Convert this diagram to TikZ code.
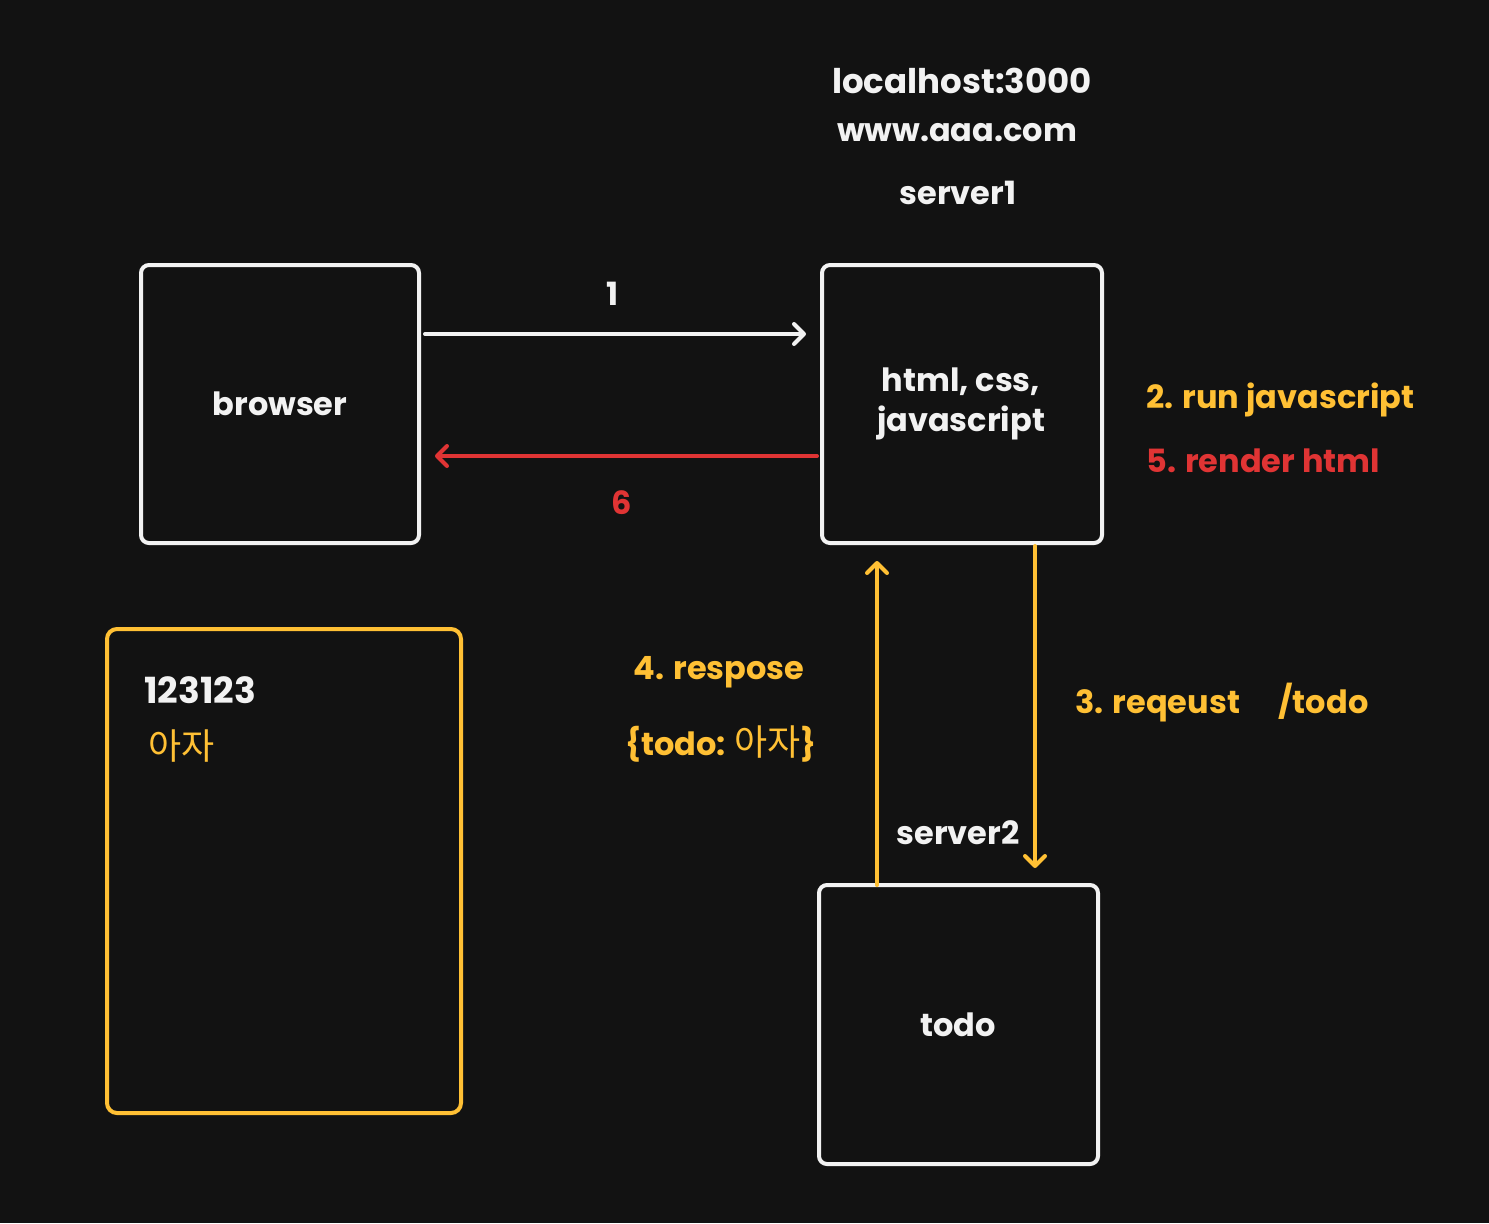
\documentclass[tikz,border=0pt]{standalone}
\usepackage{fontspec}
\setmainfont{Poppins}
\newfontfamily\kr{Noto Sans CJK KR}
\usetikzlibrary{arrows.meta}
\definecolor{bg}{HTML}{121212}
\definecolor{wht}{HTML}{F2F2F2}
\definecolor{ylw}{HTML}{FFC034}
\definecolor{rd}{HTML}{E03434}
\tikzset{
  box/.style={draw=wht, line width=2pt, rounded corners=4pt},
  ybox/.style={draw=ylw, line width=2pt, rounded corners=5pt},
  lbl/.style={font=\fontsize{16}{19}\selectfont\bfseries, text=wht, inner sep=0pt},
  conn/.style={line width=2pt, line cap=round, -{Straight Barb[length=5pt,width=10pt,line cap=round,line join=round]}},
}
\begin{document}
\begin{tikzpicture}[x=0.5pt,y=-0.5pt]
\fill[bg] (0,0) rectangle (1489,1223);
\useasboundingbox (0,0) rectangle (1489,1223);
% boxes
\draw[box] (141,265) rectangle (419,543);
\draw[box] (822,265) rectangle (1102,543);
\draw[box] (819,885) rectangle (1098,1164);
\draw[ybox] (107,629) rectangle (461,1113);
% anchor coordinates for connectors
\coordinate (a1s) at (425,334); \coordinate (a1e) at (806,334);
\coordinate (a6s) at (817,456); \coordinate (a6e) at (435,456);
\coordinate (upS) at (877,885); \coordinate (upE) at (877,561);
\coordinate (dnS) at (1035,546); \coordinate (dnE) at (1035,868);
\draw[conn, wht] (a1s) -- (a1e);
\draw[conn, rd] (a6s) -- (a6e);
\draw[conn, ylw] (upS) -- (upE);
\draw[conn, ylw] (dnS) -- (dnE);
% texts
\node[lbl, font=\fontsize{17}{19}\selectfont\bfseries] (lh) at (962,81) {localhost:3000};
\node[lbl] (www) at (957,133) {www.aaa.com};
\node[lbl] (s1) at (958,193) {server1};
\node[lbl] (br) at (280,404) {browser};
\node[lbl, align=center] (html) at (961,404) {html, css,\\[1pt]javascript};
\node[lbl] (one) at (613,294) {1};
\node[lbl, text=rd] (six) at (622,503) {6};
\node[lbl, text=ylw, anchor=west] (run) at (1146,400) {2. run javascript};
\node[lbl, text=rd, anchor=west] (rend) at (1146,461) {5. render html};
\node[lbl, text=ylw] (resp) at (719,672) {4. respose};
\node[lbl, text=ylw] (todoj) at (721,744) {\{todo: {\kr\mdseries\fontsize{18}{19}\selectfont 아자}\}};
\node[lbl, text=ylw, anchor=west] (req) at (1075,703) {3. reqeust\hspace{1.2em}/todo};
\node[lbl] (s2) at (958,833) {server2};
\node[lbl] (todo) at (958,1025) {todo};
\node[lbl, anchor=west, font=\fontsize{18}{19}\selectfont\bfseries] (num) at (144,690) {123123};
\node[lbl, anchor=west, text=ylw, font=\fontsize{18}{19}\selectfont\kr] (kr) at (148,746) {아자};
\end{tikzpicture}
\end{document}
